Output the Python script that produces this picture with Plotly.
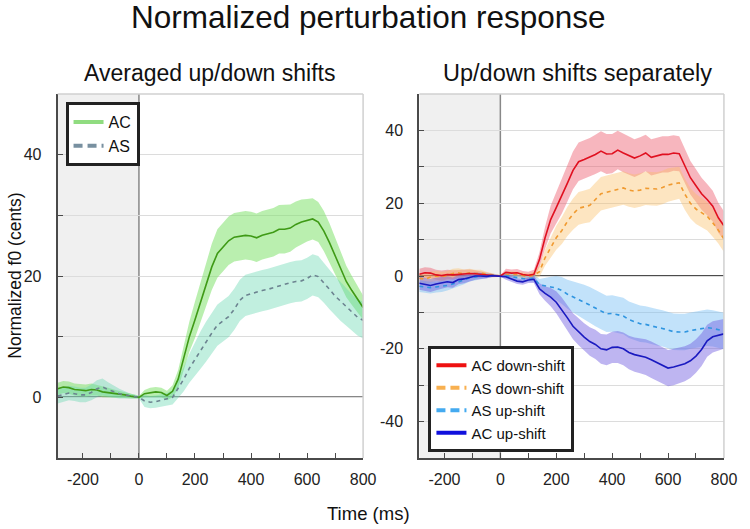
import plotly.graph_objects as go

# ---------------- data ----------------
time_ms = [-290, -270, -250, -230, -210, -190, -170, -150, -130, -110, -90, -70, -50, -30, -10,
           0, 20, 40, 60, 80, 100, 120, 140, 160, 180, 200, 220, 240, 260, 280, 300,
           320, 340, 360, 380, 400, 420, 440, 460, 480, 500, 520, 540, 560, 580, 600,
           620, 640, 660, 680, 700, 720, 740, 760, 780, 800]

# Left panel: averaged up/down shifts
ac_avg = [1.4, 1.7, 1.6, 1.3, 1.2, 1.1, 1.3, 1.2, 0.9, 0.8, 0.6, 0.5, 0.4, 0.2, 0.1,
          0.0, 0.6, 0.8, 0.9, 0.8, 0.3, 1.0, 3.0, 6.5, 10.0, 12.8, 15.8, 18.6, 21.5, 23.7, 24.8,
          25.8, 26.4, 26.6, 26.7, 26.6, 26.3, 26.7, 27.0, 27.2, 27.7, 27.7, 27.9, 28.5, 28.9, 29.2,
          29.4, 28.9, 27.4, 25.5, 23.3, 21.2, 19.1, 17.6, 16.2, 14.8]
ac_avg_err = [1.0, 1.0, 1.0, 1.0, 1.0, 1.0, 1.0, 0.9, 0.9, 0.8, 0.7, 0.6, 0.5, 0.4, 0.3,
              0.2, 0.6, 0.8, 0.8, 0.8, 0.8, 1.0, 1.5, 2.0, 2.5, 3.0, 3.3, 3.6, 3.8, 4.0, 4.0,
              4.0, 4.0, 4.0, 4.0, 4.0, 4.0, 4.0, 4.0, 4.0, 4.0, 4.0, 3.9, 3.8, 3.7, 3.5,
              3.4, 3.3, 3.3, 3.2, 3.0, 2.8, 2.6, 2.4, 2.2, 2.0]
as_avg = [0.2, 0.4, 0.7, 0.6, 0.4, 0.4, 0.8, 1.4, 1.7, 1.3, 0.9, 0.6, 0.4, 0.2, 0.1,
          0.0, -0.6, -0.8, -0.7, -0.5, -0.3, 0.0, 1.5, 3.0, 4.8, 6.3, 7.8, 9.2, 10.6, 11.9, 12.6,
          13.3, 14.5, 16.0, 16.8, 17.1, 17.3, 17.6, 17.8, 18.1, 18.4, 18.7, 18.9, 19.1, 19.2, 19.6,
          20.2, 19.9, 18.9, 17.8, 16.7, 15.8, 14.9, 14.0, 13.2, 12.7]
as_avg_err = [1.2, 1.2, 1.2, 1.2, 1.2, 1.2, 1.3, 1.4, 1.4, 1.2, 1.0, 0.8, 0.6, 0.4, 0.3,
              0.2, 1.0, 1.0, 1.0, 1.0, 1.0, 1.2, 1.6, 2.0, 2.4, 2.8, 3.1, 3.3, 3.4, 3.4, 3.4,
              3.4, 3.4, 3.4, 3.4, 3.4, 3.4, 3.4, 3.4, 3.4, 3.4, 3.4, 3.4, 3.4, 3.4, 3.4,
              3.4, 3.4, 3.3, 3.3, 3.2, 3.2, 3.1, 3.0, 3.0, 3.0]

# Right panel: up/down shifts separately
ac_down = [0.5, 0.9, 0.8, 0.3, 0.1, 0.4, 0.3, 0.5, 0.6, 0.7, 0.6, 0.4, 0.2, 0.1, 0.0,
           0.0, 1.0, 0.8, 0.9, 0.4, 0.2, 0.5, 4.5, 10.5, 15.5, 18.8, 22.0, 25.5, 29.0, 31.4, 32.0,
           32.6, 33.4, 34.3, 33.5, 33.6, 34.6, 33.8, 33.0, 32.4, 33.0, 33.8, 32.6, 32.9, 33.4, 33.4,
           33.8, 33.6, 30.5, 27.0, 24.8, 22.6, 21.0, 19.2, 16.0, 13.8]
ac_down_err = [1.5, 1.5, 1.5, 1.4, 1.4, 1.3, 1.3, 1.2, 1.2, 1.1, 1.0, 0.9, 0.7, 0.5, 0.3,
               0.2, 1.0, 1.0, 1.0, 1.0, 1.0, 1.2, 2.0, 3.0, 3.8, 4.4, 4.8, 5.0, 5.2, 5.3, 5.3,
               5.3, 5.4, 5.5, 5.5, 5.4, 5.3, 5.3, 5.2, 5.2, 5.1, 5.0, 5.0, 5.0, 5.0, 5.0,
               4.9, 4.8, 4.7, 4.6, 4.5, 4.4, 4.3, 4.2, 4.1, 4.0]
as_down = [-0.6, -0.9, -0.3, 0.0, -0.2, 0.1, 0.7, 0.9, 0.6, 0.9, 0.7, 0.8, 0.5, 0.3, 0.1,
           0.0, 0.3, 0.5, 0.4, 0.1, -0.1, 0.2, 1.2, 5.0, 7.8, 10.5, 12.5, 15.0, 17.0, 18.6, 19.0,
           19.4, 21.0, 22.6, 23.0, 23.4, 23.8, 24.2, 23.6, 23.3, 23.6, 24.1, 24.0, 23.9, 24.3, 25.0,
           25.3, 25.6, 22.5, 20.0, 18.4, 17.3, 16.4, 14.6, 12.6, 10.2]
as_down_err = [1.5, 1.5, 1.5, 1.4, 1.4, 1.3, 1.3, 1.2, 1.2, 1.1, 1.0, 0.9, 0.7, 0.5, 0.3,
               0.2, 0.8, 0.8, 0.8, 0.8, 0.8, 1.0, 1.5, 2.2, 2.8, 3.3, 3.7, 4.0, 4.3, 4.5, 4.5,
               4.6, 4.6, 4.6, 4.6, 4.6, 4.6, 4.6, 4.6, 4.6, 4.6, 4.6, 4.6, 4.6, 4.6, 4.6,
               4.5, 4.4, 4.3, 4.2, 4.1, 4.0, 3.9, 3.8, 3.7, 3.6]
as_up = [-2.8, -3.0, -3.2, -3.0, -2.9, -2.6, -2.2, -1.6, -1.2, -0.5, -0.3, 0.1, 0.2, 0.1, 0.0,
         0.0, 0.1, -0.2, -0.5, -0.7, -0.8, -0.6, -2.4, -2.6, -3.0, -3.3, -4.0, -5.0, -5.7, -6.4, -7.2,
         -8.0, -8.8, -9.6, -10.4, -10.3, -10.6, -11.0, -12.0, -12.6, -13.1, -13.3, -13.8, -14.1, -14.4, -14.8,
         -15.3, -15.4, -15.4, -15.0, -14.7, -14.3, -14.2, -14.4, -14.8, -15.1]
as_up_err = [1.6, 1.6, 1.6, 1.5, 1.5, 1.4, 1.3, 1.2, 1.1, 1.0, 0.9, 0.8, 0.6, 0.4, 0.3,
             0.2, 0.8, 0.8, 0.8, 0.8, 0.8, 1.0, 1.6, 2.2, 2.8, 3.3, 3.7, 4.0, 4.3, 4.6, 4.8,
             5.0, 5.0, 5.0, 5.0, 5.0, 5.0, 5.0, 5.0, 5.0, 5.0, 5.0, 5.0, 5.0, 5.0, 5.0,
             5.0, 5.0, 5.0, 5.0, 5.0, 5.0, 5.0, 5.0, 5.0, 5.0]
ac_up = [-2.0, -2.3, -2.6, -2.2, -1.8, -1.6, -1.8, -1.0, -0.8, -0.4, 0.0, 0.0, -0.1, 0.1, 0.0,
         0.0, -0.2, -0.8, -1.4, -1.6, -1.1, -0.9, -3.5, -4.8, -5.8, -7.2, -9.2, -11.5, -13.8, -15.3, -16.8,
         -18.0, -18.8, -20.0, -20.3, -19.6, -19.5, -20.0, -21.0, -21.6, -21.9, -22.3, -23.0, -23.8, -24.6, -25.3,
         -25.0, -24.5, -24.1, -23.3, -22.0, -20.2, -17.8, -16.7, -16.2, -15.9]
ac_up_err = [1.8, 1.8, 1.8, 1.7, 1.6, 1.5, 1.4, 1.3, 1.2, 1.1, 1.0, 0.8, 0.6, 0.4, 0.3,
             0.2, 0.8, 0.8, 0.8, 0.8, 0.8, 1.0, 1.5, 2.0, 2.5, 3.0, 3.3, 3.5, 3.6, 3.7, 3.8,
             3.9, 4.0, 4.1, 4.2, 4.3, 4.4, 4.5, 4.6, 4.7, 4.8, 4.9, 5.0, 5.0, 5.0, 5.0,
             5.0, 4.9, 4.8, 4.7, 4.6, 4.5, 4.4, 4.3, 4.2, 4.1]

x_tick_vals = [-200, -100, 0, 100, 200, 300, 400, 500, 600, 700, 800]
x_tick_text = ["-200", "", "0", "", "200", "", "400", "", "600", "", "800"]
y1_tick_vals = [0, 10, 20, 30, 40]
y1_tick_text = ["0", "", "20", "", "40"]
y2_tick_vals = [-40, -30, -20, -10, 0, 10, 20, 30, 40]
y2_tick_text = ["-40", "", "-20", "", "0", "", "20", "", "40"]

# ---------------- figure ----------------
FONT = "Liberation Sans, Arial, Helvetica, sans-serif"
fig = go.Figure()


def add_band(xa, ya, vals, errs, fillcolor):
    lo = [v - e for v, e in zip(vals, errs)]
    hi = [v + e for v, e in zip(vals, errs)]
    fig.add_trace(go.Scatter(x=time_ms, y=lo, mode="lines", line=dict(width=0),
                             xaxis=xa, yaxis=ya, showlegend=False, hoverinfo="skip"))
    fig.add_trace(go.Scatter(x=time_ms, y=hi, mode="lines", line=dict(width=0),
                             fill="tonexty", fillcolor=fillcolor,
                             xaxis=xa, yaxis=ya, showlegend=False, hoverinfo="skip"))


def add_line(xa, ya, vals, color, dash="solid", width=1.6):
    fig.add_trace(go.Scatter(x=time_ms, y=vals, mode="lines",
                             line=dict(color=color, width=width, dash=dash),
                             xaxis=xa, yaxis=ya, showlegend=False))


def add_legend_entry(name, color, dash, legend):
    fig.add_trace(go.Scatter(x=[None], y=[None], mode="lines", name=name,
                             line=dict(color=color, width=4, dash=dash),
                             xaxis="x", yaxis="y", legend=legend, showlegend=True))


# left panel
add_band("x", "y", ac_avg, ac_avg_err, "rgba(130,225,110,0.55)")
add_band("x", "y", as_avg, as_avg_err, "rgba(100,215,175,0.40)")
add_line("x", "y", ac_avg, "#3f9a16")
add_line("x", "y", as_avg, "#6c8390", dash="4px,4px")

# right panel
add_band("x2", "y2", ac_down, ac_down_err, "rgba(235,80,100,0.42)")
add_band("x2", "y2", as_down, as_down_err, "rgba(250,190,100,0.40)")
add_band("x2", "y2", as_up, as_up_err, "rgba(120,190,245,0.45)")
add_band("x2", "y2", ac_up, ac_up_err, "rgba(110,90,225,0.45)")
add_line("x2", "y2", as_down, "#f09a30", dash="4px,4px")
add_line("x2", "y2", as_up, "#2f95e0", dash="4px,4px")
add_line("x2", "y2", ac_down, "#e01020")
add_line("x2", "y2", ac_up, "#1a1ac0")

# legend entries
add_legend_entry("AC", "#90dc80", "solid", "legend")
add_legend_entry("AS", "#7890a0", "9px,5px", "legend")
add_legend_entry("AC down-shift", "#ee1111", "solid", "legend2")
add_legend_entry("AS down-shift", "#f8b050", "9px,5px", "legend2")
add_legend_entry("AS up-shift", "#44aaf0", "9px,5px", "legend2")
add_legend_entry("AC up-shift", "#1010dd", "solid", "legend2")

W, H = 750, 529
xd1 = [58.7 / W, 369.5 / W]
xd2 = [426.7 / W, 736.7 / W]
yd = [1 - 458 / H, 1 - 94 / H]

axis_common = dict(showline=True, linecolor="#4a4a4a", linewidth=2, ticks="inside",
                   ticklen=5, tickcolor="#4a4a4a", tickwidth=1.2, zeroline=False,
                   tickfont=dict(family=FONT, size=16, color="#222"))

fig.update_layout(
    width=W, height=H,
    margin=dict(l=0, r=0, t=0, b=0),
    paper_bgcolor="white", plot_bgcolor="white",
    font=dict(family=FONT, color="#111"),
    xaxis=dict(domain=xd1, range=[-290, 800], anchor="y", tickmode="array",
               tickvals=x_tick_vals, ticktext=x_tick_text, showgrid=False,
               ticklabelstandoff=6, **axis_common),
    yaxis=dict(domain=yd, range=[-10, 50], anchor="x", tickmode="array",
               tickvals=y1_tick_vals, ticktext=y1_tick_text, showgrid=True,
               gridcolor="#dcdcdc", gridwidth=1, ticklabelstandoff=11, **axis_common),
    xaxis2=dict(domain=xd2, range=[-290, 800], anchor="y2", tickmode="array",
                tickvals=x_tick_vals, ticktext=x_tick_text, showgrid=False,
                ticklabelstandoff=6, **axis_common),
    yaxis2=dict(domain=yd, range=[-50, 50], anchor="x2", tickmode="array",
                tickvals=y2_tick_vals, ticktext=y2_tick_text, showgrid=True,
                gridcolor="#dcdcdc", gridwidth=1, ticklabelstandoff=11, **axis_common),
    legend=dict(x=66.7 / W, y=1 - 102 / H, xanchor="left", yanchor="top",
                bgcolor="white", bordercolor="#222", borderwidth=3, traceorder="normal",
                font=dict(family=FONT, size=16, color="#111"), itemwidth=30,
                tracegroupgap=0),
    legend2=dict(x=436 / W, y=1 - 452 / H, xanchor="left", yanchor="bottom",
                 bgcolor="white", bordercolor="#222", borderwidth=3, traceorder="normal",
                 font=dict(family=FONT, size=15, color="#111"), itemwidth=30,
                 tracegroupgap=0),
    showlegend=True,
)

shapes = []
for xr, yr in (("x", "y"), ("x2", "y2")):
    # pre-perturbation shading
    shapes.append(dict(type="rect", xref=xr, yref=yr + " domain", x0=-290, x1=0, y0=0, y1=1,
                       fillcolor="#f0f0f0", line=dict(width=0), layer="below"))
    # top and right light frame edges
    shapes.append(dict(type="line", xref=xr + " domain", yref=yr + " domain", x0=0, x1=1, y0=1, y1=1,
                       line=dict(color="#d0d0d0", width=1.5), layer="above"))
    shapes.append(dict(type="line", xref=xr + " domain", yref=yr + " domain", x0=1, x1=1, y0=0, y1=1,
                       line=dict(color="#d0d0d0", width=1.5), layer="above"))
    # zero lines
    shapes.append(dict(type="line", xref=xr, yref=yr, x0=-290, x1=800, y0=0, y1=0,
                       line=dict(color="#111", width=1.5), layer="below"))
    shapes.append(dict(type="line", xref=xr, yref=yr + " domain", x0=0, x1=0, y0=0, y1=1,
                       line=dict(color="#888", width=1.5), layer="below"))
fig.update_layout(shapes=shapes)

annotations = [
    dict(text="Normalized perturbation response", x=0.5, y=1 - 17 / H, xref="paper", yref="paper",
         xanchor="center", yanchor="middle", showarrow=False,
         font=dict(family=FONT, size=31.5, color="#111")),
    dict(text="Averaged up/down shifts", x=213 / W, y=1 - 73 / H, xref="paper", yref="paper",
         xanchor="center", yanchor="middle", showarrow=False,
         font=dict(family=FONT, size=23, color="#111")),
    dict(text="Up/down shifts separately", x=588 / W, y=1 - 73 / H, xref="paper", yref="paper",
         xanchor="center", yanchor="middle", showarrow=False,
         font=dict(family=FONT, size=23.5, color="#111")),
    dict(text="Normalized f0 (cents)", x=15 / W, y=1 - 276 / H, xref="paper", yref="paper",
         xanchor="center", yanchor="middle", showarrow=False, textangle=-90,
         font=dict(family=FONT, size=17.5, color="#111")),
    dict(text="Time (ms)", x=0.5, y=1 - 513 / H, xref="paper", yref="paper",
         xanchor="center", yanchor="middle", showarrow=False,
         font=dict(family=FONT, size=18.5, color="#111")),
]
fig.update_layout(annotations=annotations)

fig.write_html("out.html", config={"displayModeBar": False},
               post_script="document.body.style.margin='0';document.body.style.overflow='hidden';")
